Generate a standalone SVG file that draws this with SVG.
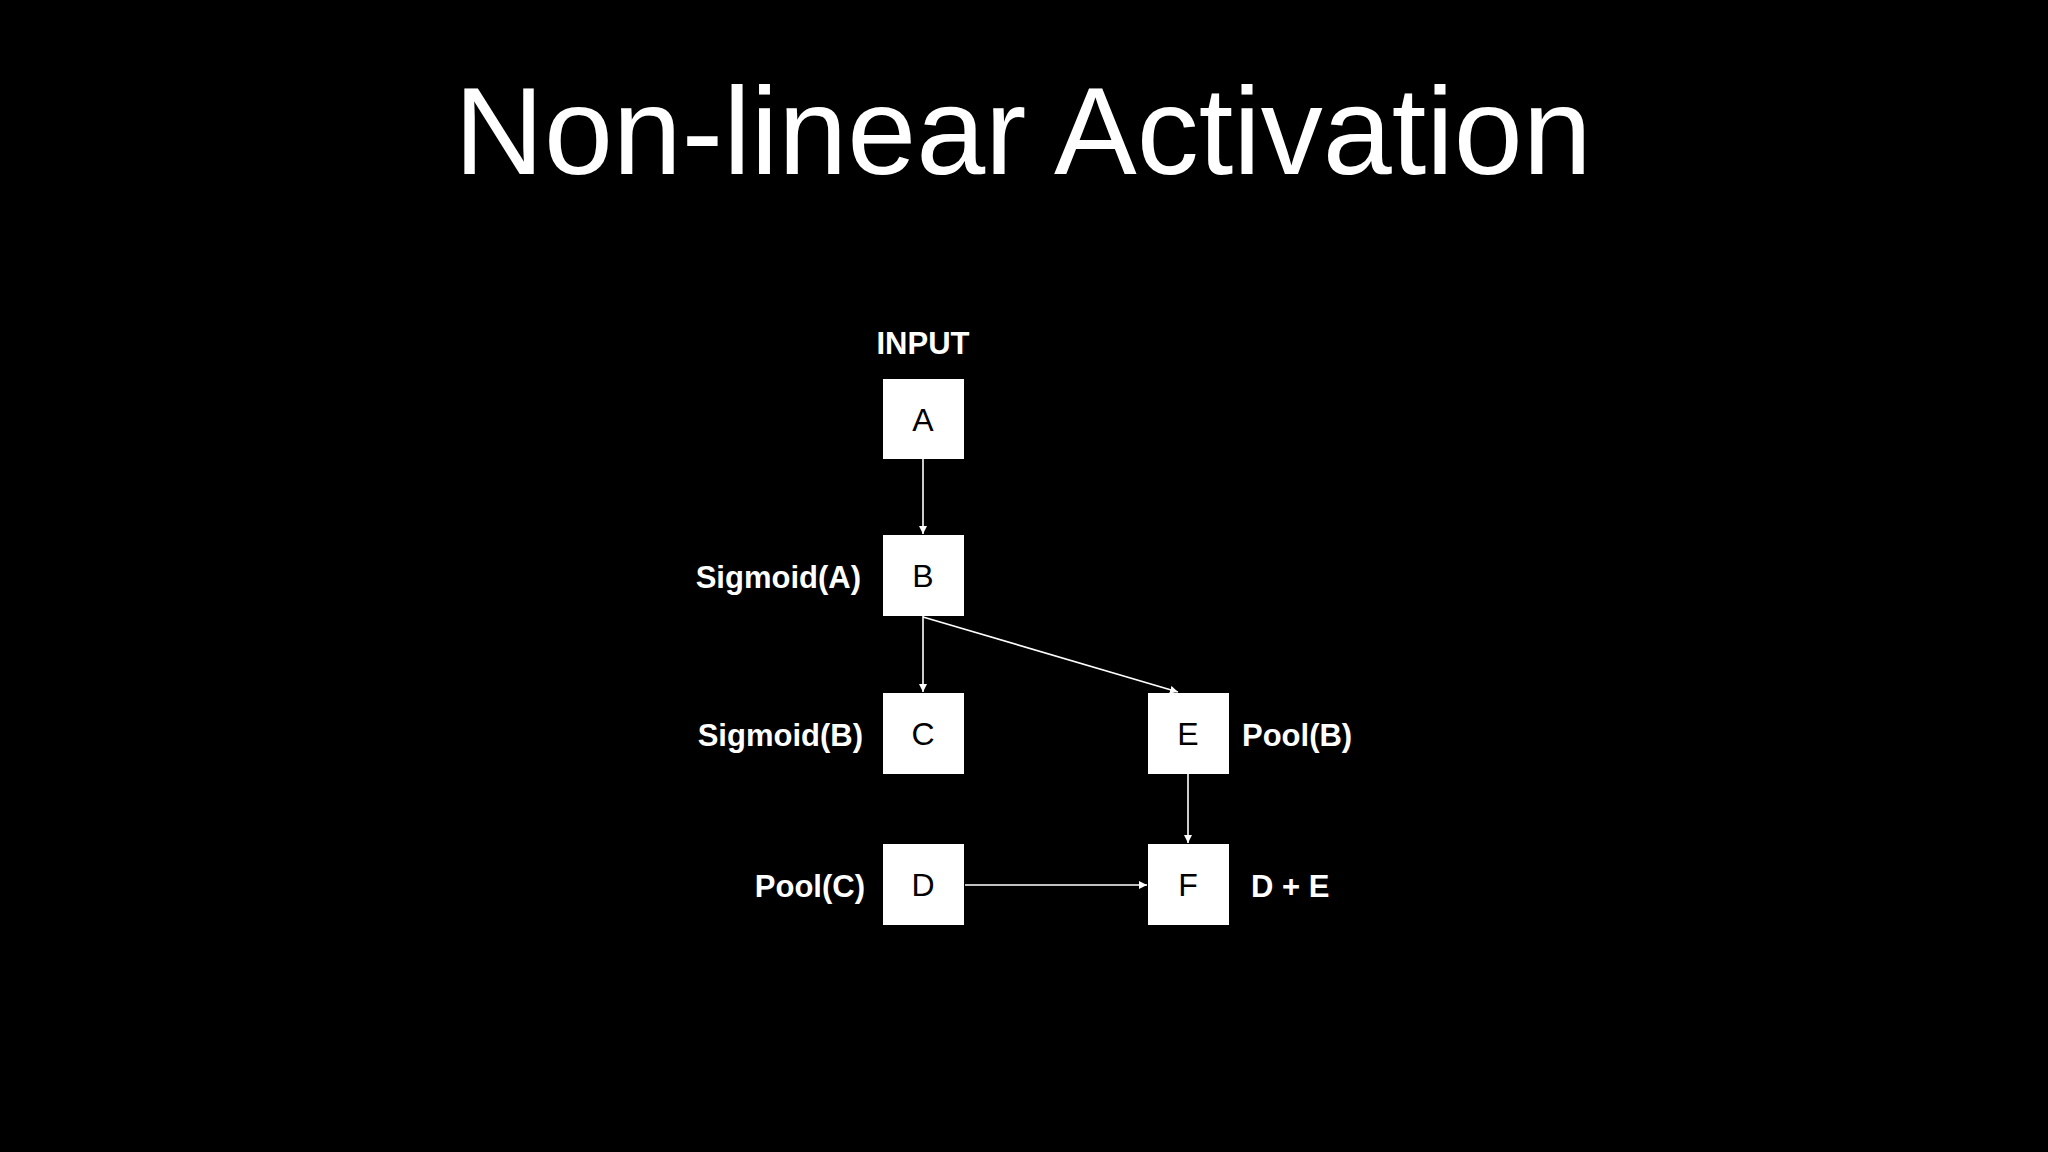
<svg xmlns="http://www.w3.org/2000/svg" width="2048" height="1152" viewBox="0 0 2048 1152">
<defs>
<marker id="ah" viewBox="0 0 10 10" refX="10" refY="5" markerWidth="8" markerHeight="8" markerUnits="userSpaceOnUse" orient="auto"><path d="M0,0 L10,5 L0,10 z" fill="#fff"/></marker>
<style>
.box{fill:#fff}
.bl{font-family:"Liberation Sans",Arial,sans-serif;font-size:32px;fill:#000;text-anchor:middle}
.lb{font-family:"Liberation Sans",Arial,sans-serif;font-size:31px;font-weight:bold;fill:#fff}
.cn{stroke:#fff;stroke-width:1.6;fill:none;marker-end:url(#ah)}
</style>
</defs>
<rect width="2048" height="1152" fill="#000"/>
<text x="1023" y="174" font-family="'Liberation Sans',Arial,sans-serif" font-size="124" fill="#fff" text-anchor="middle">Non-linear Activation</text>
<g id="connectors">
<line class="cn" x1="923" y1="459" x2="923" y2="534"/>
<line class="cn" x1="923" y1="616" x2="923" y2="692"/>
<line class="cn" x1="923" y1="617" x2="1178" y2="692"/>
<line class="cn" x1="1188" y1="774" x2="1188" y2="843"/>
<line class="cn" x1="965" y1="885" x2="1147" y2="885"/>
</g>
<g id="A"><rect class="box" x="883" y="379" width="81" height="80"/><text class="bl" x="923" y="431">A</text><text class="lb" x="923" y="354" text-anchor="middle">INPUT</text></g>
<g id="B"><rect class="box" x="883" y="535" width="81" height="81"/><text class="bl" x="923" y="587">B</text><text class="lb" x="861" y="588" text-anchor="end">Sigmoid(A)</text></g>
<g id="C"><rect class="box" x="883" y="693" width="81" height="81"/><text class="bl" x="923" y="745">C</text><text class="lb" x="863" y="746" text-anchor="end">Sigmoid(B)</text></g>
<g id="E"><rect class="box" x="1148" y="693" width="81" height="81"/><text class="bl" x="1188" y="745">E</text><text class="lb" x="1242" y="746">Pool(B)</text></g>
<g id="D"><rect class="box" x="883" y="844" width="81" height="81"/><text class="bl" x="923" y="896">D</text><text class="lb" x="865" y="897" text-anchor="end">Pool(C)</text></g>
<g id="F"><rect class="box" x="1148" y="844" width="81" height="81"/><text class="bl" x="1188" y="896">F</text><text class="lb" x="1251" y="897">D + E</text></g>
</svg>
